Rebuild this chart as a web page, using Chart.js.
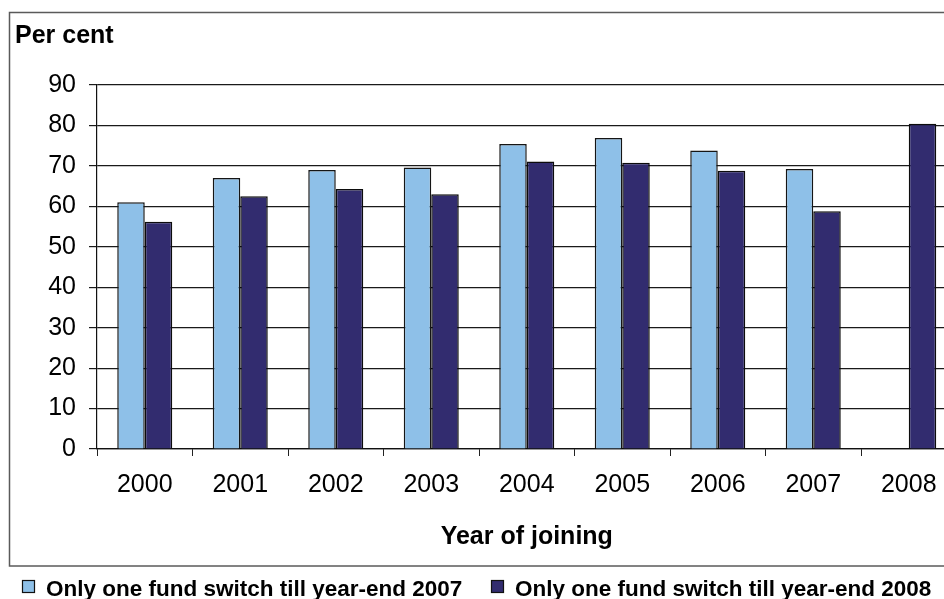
<!DOCTYPE html>
<html>
<head>
<meta charset="utf-8">
<script src="https://cdn.jsdelivr.net/npm/chart.js@4/dist/chart.umd.min.js"></script>
<style>
  html,body{margin:0;padding:0;background:#fff;overflow:hidden;}
  #wrap{position:relative;width:960px;height:599px;}
</style>
</head>
<body>
<div id="wrap"><canvas id="c" width="960" height="599"></canvas></div>
<script>
const years = ['2000','2001','2002','2003','2004','2005','2006','2007','2008'];
const till2007 = [61, 67, 69, 69.6, 75.4, 76.9, 73.8, 69.2, null];
const till2008 = [56.2, 62.5, 64.3, 63.0, 71.1, 70.8, 68.8, 58.8, 80.4];
const seriesNames = ['Only one fund switch till year-end 2007', 'Only one fund switch till year-end 2008'];
const seriesColors = ['#8ec0e8', '#322c6f'];
const yTicks = [0, 10, 20, 30, 40, 50, 60, 70, 80, 90];

const FONT = '"Liberation Sans", Arial, sans-serif';

// frame, "Per cent" heading and the legend under the frame
const decor = {
  id: 'decor',
  beforeDraw(chart){
    const ctx = chart.ctx;
    ctx.save();
    ctx.strokeStyle = '#5a5a5a';
    ctx.lineWidth = 1.5;
    ctx.strokeRect(9.5, 12.5, 1000, 553.5);
    ctx.restore();
  },
  afterDraw(chart){
    const ctx = chart.ctx;
    ctx.save();
    ctx.fillStyle = '#000';
    ctx.textBaseline = 'alphabetic';
    ctx.font = 'bold 25px ' + FONT;
    ctx.fillText('Per cent', 15, 43);

    ctx.font = 'bold 22.5px ' + FONT;
    const legendX = [22.5, 491.5];
    chart.data.datasets.forEach((ds, i) => {
      const x = legendX[i];
      ctx.fillStyle = ds.backgroundColor;
      ctx.fillRect(x, 580.5, 12, 12);
      ctx.strokeStyle = '#111';
      ctx.lineWidth = 1.2;
      ctx.strokeRect(x, 580.5, 12, 12);
      ctx.fillStyle = '#000';
      ctx.fillText(ds.label, x + 23.5, 596);
    });
    ctx.restore();
  }
};

new Chart(document.getElementById('c'), {
  type: 'bar',
  data: {
    labels: years,
    datasets: [
      { label: seriesNames[0], data: till2007, backgroundColor: seriesColors[0], borderColor: '#151515', borderWidth: 1.5 },
      { label: seriesNames[1], data: till2008, backgroundColor: seriesColors[1], borderColor: '#0c0c0c', borderWidth: 1.5 }
    ]
  },
  options: {
    responsive: false,
    animation: false,
    devicePixelRatio: 1,
    layout: { padding: { top: 85, bottom: 33, left: 0, right: 3.5 } },
    datasets: { bar: { categoryPercentage: 0.576, barPercentage: 1 } },
    plugins: { legend: { display: false }, tooltip: { enabled: false } },
    scales: {
      x: {
        grid: { display: true, drawOnChartArea: false, drawTicks: true, tickLength: 7, color: '#222', offset: true },
        border: { display: true, color: '#111', width: 1.2 },
        ticks: { color: '#000', font: { family: FONT, size: 25 }, padding: 14, maxRotation: 0 },
        title: { display: true, text: 'Year of joining', color: '#000', font: { family: FONT, size: 25, weight: 'bold' }, padding: { top: 0, bottom: 14 } },
        afterFit(scale){ scale.height = 117; }
      },
      y: {
        min: 0, max: 90,
        afterBuildTicks(scale){ scale.ticks = yTicks.map(v => ({ value: v })); },
        grid: { color: '#1a1a1a', lineWidth: 1.2, drawTicks: true, tickLength: 8 },
        border: { display: true, color: '#111', width: 1.2 },
        ticks: { color: '#000', font: { family: FONT, size: 25 }, padding: 13 },
        afterFit(scale){ scale.width = 97; }
      }
    }
  },
  plugins: [decor]
});
</script>
</body>
</html>
